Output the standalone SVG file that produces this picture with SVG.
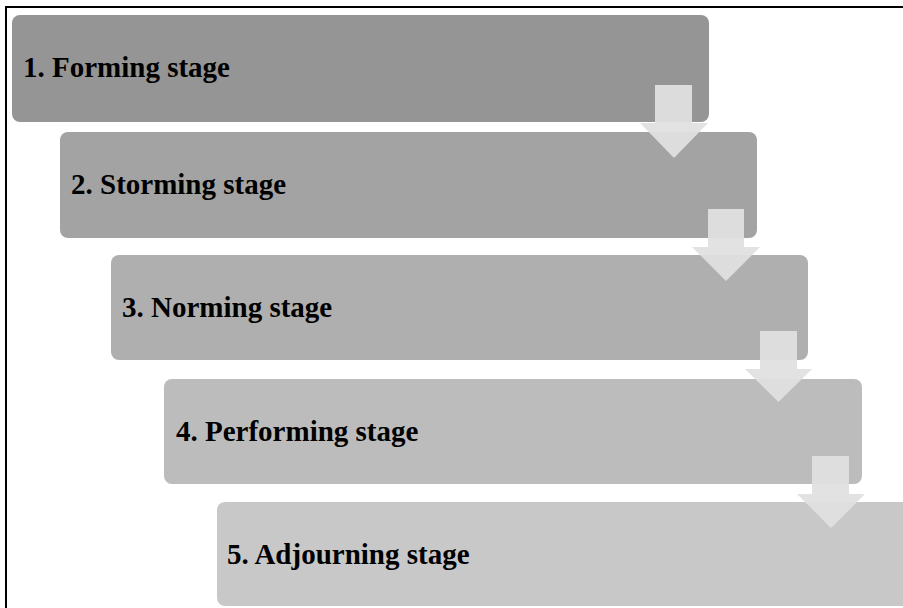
<svg xmlns="http://www.w3.org/2000/svg" width="903" height="608" viewBox="0 0 903 608">
<style>
.box{stroke:none}
.lbl{font-family:"Liberation Serif","Times New Roman",serif;font-weight:bold;font-size:29px;fill:#000}
.arr{fill:#e0e0e0;fill-opacity:0.94}
</style>
<rect x="0" y="0" width="903" height="608" fill="#ffffff"/>
<path d="M6,608 V7 H903" fill="none" stroke="#000" stroke-width="2"/>
<g id="node1"><rect class="box" x="12" y="15" width="697" height="107" rx="8" fill="#959595"/><text class="lbl" x="23" y="77">1. Forming stage</text></g>
<g id="node2"><rect class="box" x="60" y="132" width="697" height="106" rx="8" fill="#a3a3a3"/><text class="lbl" x="71" y="194">2. Storming stage</text></g>
<g id="node3"><rect class="box" x="111" y="255" width="697" height="105" rx="8" fill="#afafaf"/><text class="lbl" x="122" y="317">3. Norming stage</text></g>
<g id="node4"><rect class="box" x="164" y="379" width="698" height="105" rx="8" fill="#bcbcbc"/><text class="lbl" x="176" y="441">4. Performing stage</text></g>
<g id="node5"><rect class="box" x="217" y="502" width="698" height="104" rx="8" fill="#c8c8c8"/><text class="lbl" x="227" y="564">5. Adjourning stage</text></g>
<g id="connectors">
<path class="arr" d="M655,85 H692 V123 H708 L674,158 L640,123 H655 Z"/>
<path class="arr" d="M708,209 H744 V247 H760 L726,281 L692,247 H708 Z"/>
<path class="arr" d="M760,331 H797 V369 H812 L778.5,402 L745,369 H760 Z"/>
<path class="arr" d="M812,456 H849 V494 H865 L831,528 L797,494 H812 Z"/>
</g>
</svg>
